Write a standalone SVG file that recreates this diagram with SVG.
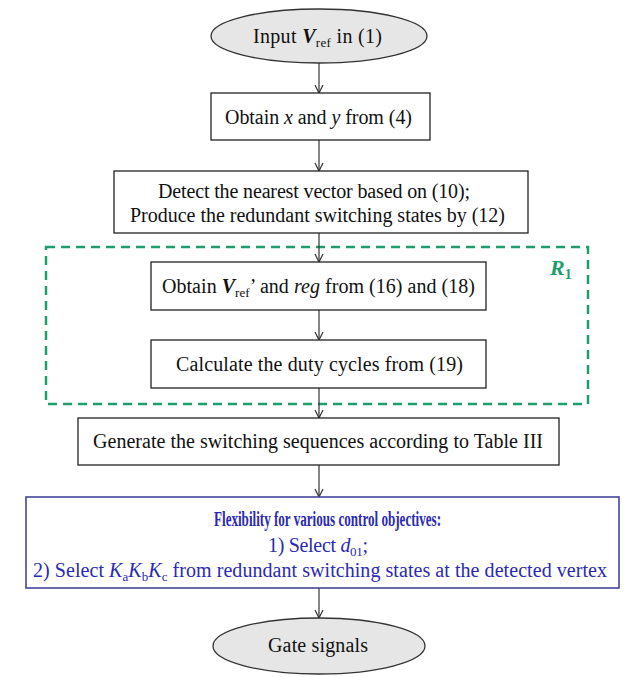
<svg xmlns="http://www.w3.org/2000/svg" width="630" height="677" viewBox="0 0 630 677">
<style>
  .t { font-family: "Liberation Serif", "Times New Roman", serif; font-size: 20px; fill: #111; }
  .box { fill: #fff; stroke: #222; stroke-width: 1.3; }
  .ell { fill: #e6e6e6; stroke: #333; stroke-width: 1.3; }
  .blue { fill: #fff; stroke: #45459a; stroke-width: 1.6; }
  .bt { font-family: "Liberation Serif", "Times New Roman", serif; font-size: 20px; fill: #2a2ab4; }
  .bi { font-style: italic; }
  .bb { font-weight: bold; font-style: italic; }
  .sub { font-size: 13px; }
  .conn { stroke: #333; stroke-width: 1.2; fill: none; marker-end: url(#arr); }
  .region { fill: none; stroke: #1f9e6c; stroke-width: 2.5; stroke-dasharray: 9 6; }
</style>
<defs>
  <marker id="arr" viewBox="0 0 10 10" refX="9" refY="5" markerWidth="10" markerHeight="10" markerUnits="userSpaceOnUse" orient="auto">
    <path d="M1,1 L9,5 L1,9" fill="none" stroke="#333" stroke-width="1.2"/>
  </marker>
</defs>

<g id="region-R1">
  <rect class="region" x="46" y="247" width="542" height="157"/>
  <text x="550" y="275" font-family="Liberation Serif, serif" font-size="22" font-weight="bold" font-style="italic" fill="#1f9e6c">R<tspan font-size="14" dy="4" font-style="normal">1</tspan></text>
</g>

<g id="connectors">
  <line class="conn" x1="319" y1="63" x2="319" y2="93"/>
  <line class="conn" x1="319" y1="140" x2="319" y2="171"/>
  <line class="conn" x1="319" y1="233" x2="319" y2="262"/>
  <line class="conn" x1="319" y1="310" x2="319" y2="340"/>
  <line class="conn" x1="319" y1="388" x2="319" y2="418"/>
  <line class="conn" x1="319" y1="465" x2="319" y2="497"/>
  <line class="conn" x1="319" y1="588" x2="319" y2="618"/>
</g>

<g id="n-input">
  <ellipse class="ell" cx="319" cy="36" rx="108" ry="27"/>
  <text class="t" x="253" y="43" textLength="129" lengthAdjust="spacing">Input <tspan class="bb">V</tspan><tspan class="sub" dy="4">ref</tspan><tspan dy="-4">  in (1)</tspan></text>
</g>

<g id="n-obtain-xy">
  <rect class="box" x="211" y="93" width="219" height="47"/>
  <text class="t" x="225" y="124" textLength="187" lengthAdjust="spacing">Obtain <tspan class="bi">x</tspan> and <tspan class="bi">y</tspan> from (4)</text>
</g>

<g id="n-detect">
  <rect class="box" x="114" y="171" width="414" height="62"/>
  <text class="t" x="158" y="198" textLength="312" lengthAdjust="spacing">Detect the nearest vector based on (10);</text>
  <text class="t" x="130" y="222" textLength="375" lengthAdjust="spacing">Produce the redundant switching states by (12)</text>
</g>

<g id="n-obtain-vref">
  <rect class="box" x="151" y="262" width="335" height="48"/>
  <text class="t" x="162" y="293" textLength="313" lengthAdjust="spacing">Obtain <tspan class="bb">V</tspan><tspan class="sub" dy="4">ref</tspan><tspan dy="-4">’ and </tspan><tspan class="bi">reg</tspan> from (16) and (18)</text>
</g>

<g id="n-duty">
  <rect class="box" x="151" y="340" width="335" height="48"/>
  <text class="t" x="176" y="371" textLength="287" lengthAdjust="spacing">Calculate the duty cycles from (19)</text>
</g>

<g id="n-generate">
  <rect class="box" x="78" y="418" width="481" height="47"/>
  <text class="t" x="93" y="448" textLength="450" lengthAdjust="spacing">Generate the switching sequences according to Table III</text>
</g>

<g id="n-flexibility">
  <rect class="blue" x="26" y="497" width="593" height="91"/>
  <text class="bt" x="214" y="526" font-size="18" font-weight="bold" fill="#1a1a9c" textLength="227" lengthAdjust="spacingAndGlyphs">Flexibility for various control objectives:</text>
  <text class="bt" x="268" y="552" textLength="100" lengthAdjust="spacing">1)  Select <tspan class="bi">d</tspan><tspan class="sub" dy="4">01</tspan><tspan dy="-4">;</tspan></text>
  <text class="bt" x="33" y="577" textLength="574" lengthAdjust="spacing">2)  Select <tspan class="bi">K</tspan><tspan class="sub" dy="4">a</tspan><tspan class="bi" dy="-4">K</tspan><tspan class="sub" dy="4">b</tspan><tspan class="bi" dy="-4">K</tspan><tspan class="sub" dy="4">c</tspan><tspan dy="-4"> from redundant switching states at the detected vertex</tspan></text>
</g>

<g id="n-gate">
  <ellipse class="ell" cx="319" cy="646" rx="106" ry="28"/>
  <text class="t" x="268" y="652" textLength="100" lengthAdjust="spacing">Gate signals</text>
</g>
</svg>
